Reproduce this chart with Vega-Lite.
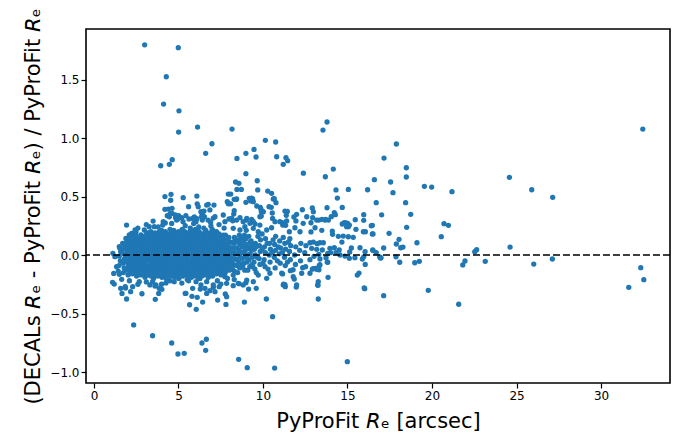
{
"$schema":"https://vega.github.io/schema/vega-lite/v6.json",
"width":584,"height":354,
"autosize":{"type":"none"},
"padding":{"left":86,"top":29,"right":20,"bottom":54},
"background":"white",
"config":{"view":{"stroke":"black","strokeWidth":1.6},"font":"DejaVu Sans",
"axis":{"grid":false,"domain":false,"tickColor":"black","tickWidth":1.2,"tickSize":5,"labelColor":"black","labelFontSize":12,"labelFont":"DejaVu Sans","titleFont":"DejaVu Sans","titleFontWeight":"normal","titleColor":"black","titleFontSize":21,"labelPadding":2}},
"layer":[
{"data":{"values":[
{"x":3.0,"y":1.797},{"x":4.99,"y":1.772},{"x":4.28,"y":1.524},{"x":4.12,"y":1.29},{"x":5.03,"y":1.233},{"x":6.13,"y":1.094},{"x":8.17,"y":1.077},{"x":5.01,"y":1.051},{"x":6.98,"y":0.951},{"x":6.61,"y":0.869},{"x":4.63,"y":0.815},{"x":4.46,"y":0.775},{"x":3.95,"y":0.763},{"x":9.47,"y":0.903},{"x":8.99,"y":0.869},{"x":8.46,"y":0.826},{"x":9.59,"y":0.838},{"x":8.99,"y":0.695},{"x":8.38,"y":0.624},{"x":8.58,"y":0.613},{"x":8.46,"y":0.561},{"x":8.72,"y":0.561},{"x":8.09,"y":0.521},{"x":4.2,"y":0.5},{"x":4.56,"y":0.519},{"x":5.28,"y":0.49},{"x":6.09,"y":0.504},
{"x":13.79,"y":1.137},{"x":13.55,"y":1.068},{"x":10.14,"y":0.98},{"x":10.75,"y":0.966},{"x":10.81,"y":0.84},{"x":11.36,"y":0.832},{"x":11.46,"y":0.806},{"x":11.2,"y":0.775},{"x":17.89,"y":0.949},{"x":17.16,"y":0.829},{"x":18.48,"y":0.746},{"x":18.48,"y":0.667},{"x":14.16,"y":0.735},{"x":13.69,"y":0.669},{"x":12.39,"y":0.7},{"x":16.59,"y":0.644},{"x":17.55,"y":0.624},{"x":17.69,"y":0.533},{"x":16.19,"y":0.558},{"x":15.05,"y":0.561},{"x":14.32,"y":0.556},{"x":14.4,"y":0.487},{"x":9.66,"y":0.635},{"x":9.69,"y":0.556},{"x":10.28,"y":0.547},{"x":10.51,"y":0.527},{"x":10.61,"y":0.479},{"x":9.33,"y":0.487},
{"x":32.47,"y":1.077},{"x":24.58,"y":0.664},{"x":25.9,"y":0.558},{"x":27.14,"y":0.493},{"x":19.55,"y":0.587},{"x":19.98,"y":0.581},{"x":21.18,"y":0.541},{"x":18.44,"y":0.447},{"x":16.7,"y":0.447},{"x":17.02,"y":0.344},{"x":18.74,"y":0.348},{"x":18.5,"y":0.237},{"x":17.46,"y":0.185},{"x":16.41,"y":0.25},{"x":16.51,"y":0.18},{"x":20.71,"y":0.268},{"x":20.97,"y":0.254},{"x":20.55,"y":0.157},{"x":19.11,"y":0.105},{"x":17.89,"y":0.094},{"x":18.05,"y":0.134},{"x":18.15,"y":0.062},{"x":18.28,"y":0.068},{"x":17.14,"y":0.06},{"x":16.51,"y":0.04},{"x":16.96,"y":-0.026},{"x":18.09,"y":-0.062},{"x":18.98,"y":-0.066},{"x":19.25,"y":-0.054},{"x":21.82,"y":-0.085},{"x":21.95,"y":-0.051},{"x":22.53,"y":0.028},{"x":22.64,"y":0.045},{"x":23.15,"y":-0.054},{"x":24.62,"y":0.068},{"x":26.02,"y":-0.077},{"x":27.12,"y":-0.034},{"x":17.14,"y":-0.348},{"x":19.78,"y":-0.302},{"x":21.58,"y":-0.421},{"x":31.64,"y":-0.276},{"x":32.35,"y":-0.108},{"x":32.53,"y":-0.211},
{"x":2.35,"y":-0.598},{"x":3.47,"y":-0.69},{"x":4.6,"y":-0.752},{"x":4.97,"y":-0.846},{"x":5.34,"y":-0.84},{"x":6.39,"y":-0.752},{"x":6.65,"y":-0.72},{"x":6.61,"y":-0.815},{"x":8.56,"y":-0.892},{"x":9.07,"y":-0.963},{"x":10.69,"y":-0.966},{"x":10.57,"y":-0.527},{"x":10.2,"y":-0.376},{"x":1.66,"y":-0.328},{"x":1.93,"y":-0.376},{"x":1.87,"y":-0.282},{"x":2.17,"y":-0.313},{"x":1.2,"y":-0.248},{"x":1.1,"y":-0.233},{"x":2.84,"y":-0.331},{"x":3.63,"y":-0.379},{"x":3.83,"y":-0.328},{"x":4.02,"y":-0.293},{"x":3.61,"y":-0.265},{"x":4.26,"y":-0.239},{"x":5.4,"y":-0.328},{"x":5.66,"y":-0.425},{"x":5.8,"y":-0.353},{"x":6.11,"y":-0.362},{"x":6.05,"y":-0.464},{"x":6.43,"y":-0.402},{"x":6.29,"y":-0.291},{"x":6.67,"y":-0.328},{"x":6.86,"y":-0.305},{"x":7.06,"y":-0.276},{"x":7.32,"y":-0.385},{"x":7.41,"y":-0.271},{"x":7.51,"y":-0.248},{"x":7.77,"y":-0.333},{"x":7.85,"y":-0.356},{"x":7.81,"y":-0.422},{"x":8.24,"y":-0.262},{"x":8.58,"y":-0.245},{"x":9.15,"y":-0.291},{"x":9.6,"y":-0.285},{"x":8.9,"y":-0.402},{"x":8.99,"y":-0.237},{"x":11.3,"y":-0.254},{"x":14.99,"y":-0.912},{"x":16.02,"y":-0.288},{"x":13.27,"y":-0.376},{"x":13.24,"y":-0.256},{"x":13.85,"y":-0.191},{"x":15.58,"y":-0.171},{"x":15.68,"y":-0.154},{"x":11.97,"y":-0.274},{"x":11.22,"y":-0.25},{"x":11.32,"y":-0.271},{"x":11.85,"y":-0.205},{"x":11.16,"y":-0.162},{"x":12.35,"y":-0.108},{"x":11.62,"y":-0.134},{"x":11.78,"y":-0.126},{"x":12.92,"y":-0.12},{"x":13.1,"y":-0.114},{"x":13.31,"y":-0.126},{"x":13.37,"y":-0.083},{"x":13.8,"y":-0.06},{"x":16.05,"y":-0.08},{"x":13.25,"y":-0.259},{"x":15.99,"y":-0.282},
{"x":4.54,"y":0.468},{"x":6.11,"y":0.438},{"x":6.17,"y":0.413},{"x":5.6,"y":0.413},{"x":6.51,"y":0.376},{"x":6.41,"y":0.348},{"x":6.76,"y":0.433},{"x":7.1,"y":0.427},{"x":4.4,"y":0.393},{"x":4.2,"y":0.391},{"x":4.62,"y":0.399},{"x":4.51,"y":0.353},{"x":4.34,"y":0.336},{"x":4.1,"y":0.285},{"x":4.22,"y":0.274},{"x":4.83,"y":0.319},{"x":5.01,"y":0.336},{"x":5.19,"y":0.319},{"x":4.89,"y":0.299},{"x":5.27,"y":0.285},{"x":5.62,"y":0.308},{"x":5.94,"y":0.325},{"x":6.09,"y":0.31},{"x":6.41,"y":0.299},{"x":6.75,"y":0.299},{"x":7.06,"y":0.316},{"x":6.92,"y":0.248},{"x":7.95,"y":0.521},{"x":8.09,"y":0.438},{"x":7.95,"y":0.438},{"x":8.3,"y":0.476},{"x":8.42,"y":0.476},{"x":8.27,"y":0.35},{"x":8.3,"y":0.379},{"x":8.21,"y":0.293},{"x":7.99,"y":0.308},{"x":8.99,"y":0.45},{"x":9.27,"y":0.462},{"x":9.43,"y":0.456},{"x":9.63,"y":0.419},{"x":9.84,"y":0.408},{"x":9.9,"y":0.37},{"x":9.9,"y":0.333},{"x":9.53,"y":0.265},{"x":9.33,"y":0.305},{"x":9.01,"y":0.299},{"x":9.01,"y":0.211},{"x":10.36,"y":0.413},{"x":10.49,"y":0.408},{"x":10.55,"y":0.359},{"x":10.67,"y":0.481},{"x":10.77,"y":0.447},{"x":11.3,"y":0.376},{"x":11.44,"y":0.373},{"x":11.38,"y":0.339},{"x":11.14,"y":0.276},{"x":11.34,"y":0.254},{"x":11.83,"y":0.325},{"x":11.95,"y":0.291},{"x":12.33,"y":0.387},{"x":12.92,"y":0.402},{"x":13.79,"y":0.404},{"x":14.22,"y":0.362},{"x":13.87,"y":0.299},{"x":13.3,"y":0.299},{"x":13.67,"y":0.299},{"x":12.84,"y":0.276},{"x":13.48,"y":0.211},{"x":14.1,"y":0.205},{"x":14.69,"y":0.265},{"x":14.91,"y":0.274},{"x":15.05,"y":0.242},{"x":15.46,"y":0.302},{"x":15.96,"y":0.345},{"x":15.96,"y":0.297},{"x":16.47,"y":0.254},{"x":16.06,"y":0.199},{"x":16.47,"y":0.18},
{"x":14.69,"y":0.407},{"x":14.28,"y":0.345},{"x":14.04,"y":0.328},{"x":12.94,"y":0.319},{"x":13.49,"y":0.305},{"x":13.71,"y":0.305},{"x":14.81,"y":0.276},{"x":15.01,"y":0.271},{"x":15.11,"y":0.256},{"x":14.95,"y":0.242},{"x":15.5,"y":0.22},{"x":15.94,"y":0.199},{"x":12.84,"y":0.197},{"x":13.08,"y":0.233},{"x":14.12,"y":0.177},{"x":14.46,"y":0.16},{"x":14.75,"y":0.162},{"x":14.67,"y":0.111},{"x":15.34,"y":0.151},{"x":15.05,"y":0.156},{"x":12.78,"y":0.105},{"x":12.98,"y":0.111},{"x":13.21,"y":0.097},{"x":13.37,"y":0.105},{"x":13.57,"y":0.105},{"x":12.88,"y":0.057},{"x":13.18,"y":0.049},{"x":13.51,"y":0.043},{"x":13.96,"y":0.057},{"x":14.22,"y":0.062},{"x":14.51,"y":0.043},{"x":15.23,"y":0.06},{"x":15.74,"y":0.062},{"x":16.04,"y":0.028},{"x":16.49,"y":0.043},{"x":16.7,"y":0.02},{"x":16.9,"y":-0.015},{"x":16.98,"y":-0.023},{"x":17.87,"y":-0.015},{"x":13.3,"y":0.006},{"x":13.37,"y":-0.034},{"x":13.73,"y":-0.023},{"x":13.33,"y":-0.091},{"x":13.83,"y":-0.062},{"x":12.98,"y":-0.117},{"x":13.18,"y":-0.122},{"x":13.02,"y":-0.011},{"x":14.56,"y":0.0},{"x":14.85,"y":-0.009},{"x":15.11,"y":-0.028},{"x":15.44,"y":-0.023},{"x":15.88,"y":-0.034},{"x":15.96,"y":-0.015},{"x":14.0,"y":0.02},{"x":14.32,"y":0.02},{"x":15.13,"y":0.026},{"x":12.78,"y":-0.04},{"x":13.83,"y":0.014},
{"x":1.12,"y":0.014},{"x":1.44,"y":-0.137},{"x":1.5,"y":-0.165},{"x":1.85,"y":-0.271},{"x":2.29,"y":-0.271},{"x":2.68,"y":-0.228},{"x":3.31,"y":-0.256},{"x":3.47,"y":-0.228},{"x":3.67,"y":-0.256},{"x":3.86,"y":-0.285},{"x":4.75,"y":-0.228},{"x":4.89,"y":-0.185},{"x":5.44,"y":-0.327},{"x":5.84,"y":-0.285},{"x":6.04,"y":-0.228},{"x":6.33,"y":-0.256},{"x":4.62,"y":0.356},{"x":4.46,"y":0.327},{"x":4.81,"y":0.342},{"x":4.95,"y":0.305},{"x":3.27,"y":0.242},{"x":3.57,"y":0.242},{"x":4.07,"y":0.256},{"x":3.37,"y":0.199},{"x":5.44,"y":0.336},{"x":5.84,"y":0.313},{"x":6.04,"y":0.285},{"x":6.33,"y":0.37},{"x":6.53,"y":0.327},{"x":2.49,"y":0.199},{"x":2.78,"y":0.171},{"x":2.98,"y":0.214},{"x":1.89,"y":0.142},{"x":2.09,"y":0.171},{"x":1.7,"y":0.1},{"x":1.5,"y":0.071},{"x":2.23,"y":0.185},{"x":2.43,"y":0.214},{"x":1.93,"y":0.256},{"x":1.24,"y":-0.014},{"x":1.17,"y":-0.157},{"x":1.34,"y":-0.1},{"x":1.64,"y":-0.208},{"x":1.58,"y":-0.285},
{"x":7.89,"y":0.456},{"x":8.44,"y":0.479},{"x":9.19,"y":0.485},{"x":9.39,"y":0.479},{"x":9.88,"y":0.393},{"x":10.02,"y":0.37},{"x":9.82,"y":0.327},{"x":10.57,"y":0.313},{"x":10.71,"y":0.285},{"x":11.4,"y":0.291},{"x":11.99,"y":0.348},{"x":12.59,"y":0.327},{"x":12.98,"y":0.37},{"x":13.18,"y":0.299},{"x":11.0,"y":0.285},{"x":11.17,"y":0.256},{"x":11.56,"y":0.199},{"x":11.89,"y":0.233},{"x":12.19,"y":0.199},{"x":12.38,"y":0.271},{"x":6.67,"y":0.427},{"x":6.86,"y":0.385},{"x":6.37,"y":0.327},{"x":7.16,"y":0.327},{"x":7.65,"y":0.342},{"x":7.75,"y":0.285},{"x":8.15,"y":0.313},{"x":8.44,"y":0.299},{"x":8.64,"y":0.319},{"x":8.83,"y":0.285},{"x":9.04,"y":0.313},{"x":9.23,"y":0.271},{"x":9.43,"y":0.285},{"x":8.24,"y":0.228},{"x":8.64,"y":0.214},{"x":8.93,"y":0.242},{"x":9.43,"y":0.228},{"x":9.72,"y":0.199},{"x":10.22,"y":0.214},{"x":10.51,"y":0.233},{"x":9.82,"y":0.256},
{"x":6.47,"y":-0.142},{"x":6.86,"y":-0.171},{"x":6.67,"y":-0.228},{"x":7.06,"y":-0.256},{"x":6.57,"y":-0.285},{"x":7.16,"y":-0.313},{"x":7.46,"y":-0.156},{"x":7.75,"y":-0.185},{"x":7.85,"y":-0.242},{"x":8.24,"y":-0.171},{"x":8.54,"y":-0.242},{"x":8.83,"y":-0.256},{"x":9.04,"y":-0.214},{"x":9.43,"y":-0.228},{"x":9.72,"y":-0.171},{"x":10.22,"y":-0.199},{"x":10.41,"y":-0.156},{"x":11.11,"y":-0.156},{"x":11.2,"y":-0.256},{"x":11.79,"y":-0.185},{"x":11.99,"y":-0.256},{"x":12.29,"y":-0.156},{"x":12.78,"y":-0.156},{"x":13.27,"y":-0.228},
{"x":2.6,"y":0.23},{"x":3.1,"y":0.26},{"x":3.8,"y":0.24},{"x":4.6,"y":0.27},{"x":5.4,"y":0.25},{"x":5.9,"y":0.27},{"x":6.2,"y":0.24},{"x":6.9,"y":0.28},{"x":7.4,"y":0.26},{"x":7.7,"y":0.23},{"x":3.5,"y":0.29},{"x":5.7,"y":0.23},
{"x":2.1,"y":-0.22},{"x":2.6,"y":-0.25},{"x":3.1,"y":-0.23},{"x":4.0,"y":-0.25},{"x":4.5,"y":-0.22},{"x":5.2,"y":-0.24},{"x":5.6,"y":-0.22},{"x":6.2,"y":-0.2},{"x":7.3,"y":-0.22},{"x":7.9,"y":-0.2},{"x":8.3,"y":-0.21},
{"x":1.48,"y":-0.09},{"x":1.56,"y":-0.05},{"x":1.5,"y":-0.01},{"x":1.58,"y":0.03},{"x":1.53,"y":0.06},
{"x":1.74,"y":-0.15},{"x":1.79,"y":-0.11},{"x":1.72,"y":-0.07},{"x":1.81,"y":-0.03},{"x":1.76,"y":0.01},{"x":1.7,"y":0.05},{"x":1.78,"y":0.09},
{"x":2.02,"y":-0.17},{"x":1.97,"y":-0.13},{"x":2.05,"y":-0.09},{"x":2.0,"y":-0.05},{"x":2.07,"y":-0.01},{"x":1.98,"y":0.03},{"x":2.04,"y":0.07},{"x":2.01,"y":0.11},{"x":1.96,"y":0.14},
{"x":2.27,"y":-0.16},{"x":2.22,"y":-0.12},{"x":2.29,"y":-0.08},{"x":2.24,"y":-0.04},{"x":2.3,"y":0.0},{"x":2.21,"y":0.04},{"x":2.26,"y":0.08},{"x":2.28,"y":0.12},
{"x":2.52,"y":-0.18},{"x":2.47,"y":-0.14},{"x":2.55,"y":-0.1},{"x":2.49,"y":-0.06},{"x":2.53,"y":-0.02},{"x":2.46,"y":0.02},{"x":2.54,"y":0.06},{"x":2.5,"y":0.1},{"x":2.56,"y":0.14},{"x":2.48,"y":0.17},
{"x":2.77,"y":-0.17},{"x":2.73,"y":-0.13},{"x":2.8,"y":-0.09},{"x":2.71,"y":-0.05},{"x":2.78,"y":-0.01},{"x":2.74,"y":0.03},{"x":2.79,"y":0.07},{"x":2.72,"y":0.11},{"x":2.76,"y":0.15},
{"x":3.02,"y":-0.19},{"x":2.97,"y":-0.15},{"x":3.04,"y":-0.11},{"x":2.99,"y":-0.07},{"x":3.05,"y":-0.03},{"x":2.96,"y":0.01},{"x":3.03,"y":0.05},{"x":2.98,"y":0.09},{"x":3.01,"y":0.13},{"x":3.06,"y":0.16},
{"x":3.27,"y":-0.17},{"x":3.22,"y":-0.13},{"x":3.29,"y":-0.09},{"x":3.24,"y":-0.05},{"x":3.3,"y":-0.01},{"x":3.21,"y":0.03},{"x":3.26,"y":0.07},{"x":3.23,"y":0.11},{"x":3.28,"y":0.15},{"x":3.25,"y":0.19},
{"x":3.52,"y":-0.2},{"x":3.47,"y":-0.16},{"x":3.54,"y":-0.12},{"x":3.49,"y":-0.08},{"x":3.55,"y":-0.04},{"x":3.46,"y":0.0},{"x":3.53,"y":0.04},{"x":3.48,"y":0.08},{"x":3.51,"y":0.12},{"x":3.56,"y":0.16},
{"x":3.77,"y":-0.18},{"x":3.72,"y":-0.14},{"x":3.79,"y":-0.1},{"x":3.74,"y":-0.06},{"x":3.8,"y":-0.02},{"x":3.71,"y":0.02},{"x":3.76,"y":0.06},{"x":3.73,"y":0.1},{"x":3.78,"y":0.14},{"x":3.75,"y":0.18},
{"x":4.02,"y":-0.19},{"x":3.97,"y":-0.15},{"x":4.04,"y":-0.11},{"x":3.99,"y":-0.07},{"x":4.05,"y":-0.03},{"x":3.96,"y":0.01},{"x":4.03,"y":0.05},{"x":3.98,"y":0.09},{"x":4.01,"y":0.13},{"x":4.06,"y":0.17},{"x":4.0,"y":0.21},
{"x":4.27,"y":-0.2},{"x":4.22,"y":-0.16},{"x":4.29,"y":-0.12},{"x":4.24,"y":-0.08},{"x":4.3,"y":-0.04},{"x":4.21,"y":0.0},{"x":4.26,"y":0.04},{"x":4.23,"y":0.08},{"x":4.28,"y":0.12},{"x":4.25,"y":0.16},{"x":4.22,"y":0.2},
{"x":4.52,"y":-0.18},{"x":4.47,"y":-0.14},{"x":4.54,"y":-0.1},{"x":4.49,"y":-0.06},{"x":4.55,"y":-0.02},{"x":4.46,"y":0.02},{"x":4.53,"y":0.06},{"x":4.48,"y":0.1},{"x":4.51,"y":0.14},{"x":4.56,"y":0.18},{"x":4.5,"y":0.22},
{"x":4.77,"y":-0.19},{"x":4.72,"y":-0.15},{"x":4.79,"y":-0.11},{"x":4.74,"y":-0.07},{"x":4.8,"y":-0.03},{"x":4.71,"y":0.01},{"x":4.76,"y":0.05},{"x":4.73,"y":0.09},{"x":4.78,"y":0.13},{"x":4.75,"y":0.17},{"x":4.72,"y":0.21},
{"x":5.02,"y":-0.2},{"x":4.97,"y":-0.16},{"x":5.04,"y":-0.12},{"x":4.99,"y":-0.08},{"x":5.05,"y":-0.04},{"x":4.96,"y":0.0},{"x":5.03,"y":0.04},{"x":4.98,"y":0.08},{"x":5.01,"y":0.12},{"x":5.06,"y":0.16},{"x":5.0,"y":0.2},
{"x":5.27,"y":-0.18},{"x":5.22,"y":-0.14},{"x":5.29,"y":-0.1},{"x":5.24,"y":-0.06},{"x":5.3,"y":-0.02},{"x":5.21,"y":0.02},{"x":5.26,"y":0.06},{"x":5.23,"y":0.1},{"x":5.28,"y":0.14},{"x":5.25,"y":0.18},{"x":5.22,"y":0.22},
{"x":5.52,"y":-0.21},{"x":5.47,"y":-0.17},{"x":5.54,"y":-0.13},{"x":5.49,"y":-0.09},{"x":5.55,"y":-0.05},{"x":5.46,"y":-0.01},{"x":5.53,"y":0.03},{"x":5.48,"y":0.07},{"x":5.51,"y":0.11},{"x":5.56,"y":0.15},{"x":5.5,"y":0.19},
{"x":5.77,"y":-0.19},{"x":5.72,"y":-0.15},{"x":5.79,"y":-0.11},{"x":5.74,"y":-0.07},{"x":5.8,"y":-0.03},{"x":5.71,"y":0.01},{"x":5.76,"y":0.05},{"x":5.73,"y":0.09},{"x":5.78,"y":0.13},{"x":5.75,"y":0.17},{"x":5.72,"y":0.21},
{"x":6.02,"y":-0.18},{"x":5.97,"y":-0.14},{"x":6.04,"y":-0.1},{"x":5.99,"y":-0.06},{"x":6.05,"y":-0.02},{"x":5.96,"y":0.02},{"x":6.03,"y":0.06},{"x":5.98,"y":0.1},{"x":6.01,"y":0.14},{"x":6.06,"y":0.18},{"x":6.0,"y":0.22},
{"x":6.27,"y":-0.2},{"x":6.22,"y":-0.16},{"x":6.29,"y":-0.12},{"x":6.24,"y":-0.08},{"x":6.3,"y":-0.04},{"x":6.21,"y":0.0},{"x":6.26,"y":0.04},{"x":6.23,"y":0.08},{"x":6.28,"y":0.12},{"x":6.25,"y":0.16},{"x":6.22,"y":0.2},
{"x":6.52,"y":-0.17},{"x":6.47,"y":-0.13},{"x":6.54,"y":-0.09},{"x":6.49,"y":-0.05},{"x":6.55,"y":-0.01},{"x":6.46,"y":0.03},{"x":6.53,"y":0.07},{"x":6.48,"y":0.11},{"x":6.51,"y":0.15},{"x":6.56,"y":0.19},{"x":6.5,"y":0.23},
{"x":6.77,"y":-0.19},{"x":6.72,"y":-0.15},{"x":6.79,"y":-0.11},{"x":6.74,"y":-0.07},{"x":6.8,"y":-0.03},{"x":6.71,"y":0.01},{"x":6.76,"y":0.05},{"x":6.73,"y":0.09},{"x":6.78,"y":0.13},{"x":6.75,"y":0.17},
{"x":7.02,"y":-0.18},{"x":6.97,"y":-0.14},{"x":7.04,"y":-0.1},{"x":6.99,"y":-0.06},{"x":7.05,"y":-0.02},{"x":6.96,"y":0.02},{"x":7.03,"y":0.06},{"x":6.98,"y":0.1},{"x":7.01,"y":0.14},{"x":7.06,"y":0.18},{"x":7.0,"y":0.22},
{"x":7.27,"y":-0.16},{"x":7.22,"y":-0.12},{"x":7.29,"y":-0.08},{"x":7.24,"y":-0.04},{"x":7.3,"y":0.0},{"x":7.21,"y":0.04},{"x":7.26,"y":0.08},{"x":7.23,"y":0.12},{"x":7.28,"y":0.16},{"x":7.25,"y":0.2},
{"x":7.52,"y":-0.17},{"x":7.47,"y":-0.13},{"x":7.54,"y":-0.09},{"x":7.49,"y":-0.05},{"x":7.55,"y":-0.01},{"x":7.46,"y":0.03},{"x":7.53,"y":0.07},{"x":7.48,"y":0.11},{"x":7.51,"y":0.15},
{"x":7.77,"y":-0.15},{"x":7.72,"y":-0.11},{"x":7.79,"y":-0.07},{"x":7.74,"y":-0.03},{"x":7.8,"y":0.01},{"x":7.71,"y":0.05},{"x":7.76,"y":0.09},{"x":7.73,"y":0.13},{"x":7.78,"y":0.17},
{"x":8.02,"y":-0.13},{"x":7.97,"y":-0.09},{"x":8.04,"y":-0.05},{"x":7.99,"y":-0.01},{"x":8.05,"y":0.03},{"x":7.96,"y":0.07},{"x":8.03,"y":0.11},{"x":7.98,"y":0.15},
{"x":8.32,"y":-0.14},{"x":8.27,"y":-0.08},{"x":8.34,"y":-0.03},{"x":8.29,"y":0.02},{"x":8.35,"y":0.06},{"x":8.26,"y":0.1},{"x":8.31,"y":0.15},
{"x":8.62,"y":-0.11},{"x":8.57,"y":-0.06},{"x":8.64,"y":-0.01},{"x":8.59,"y":0.04},{"x":8.65,"y":0.09},{"x":8.56,"y":0.13},{"x":8.6,"y":0.17},
{"x":8.92,"y":-0.13},{"x":8.87,"y":-0.07},{"x":8.94,"y":-0.02},{"x":8.89,"y":0.03},{"x":8.95,"y":0.08},{"x":8.86,"y":0.12},
{"x":9.22,"y":-0.1},{"x":9.17,"y":-0.04},{"x":9.24,"y":0.01},{"x":9.19,"y":0.06},{"x":9.25,"y":0.11},{"x":9.16,"y":0.16},
{"x":9.52,"y":-0.12},{"x":9.47,"y":-0.06},{"x":9.54,"y":0.0},{"x":9.49,"y":0.05},{"x":9.55,"y":0.1},
{"x":9.82,"y":-0.08},{"x":9.77,"y":-0.03},{"x":9.84,"y":0.03},{"x":9.79,"y":0.08},{"x":9.85,"y":0.13},
{"x":10.12,"y":-0.1},{"x":10.07,"y":-0.04},{"x":10.14,"y":0.02},{"x":10.09,"y":0.07},{"x":10.15,"y":0.14},
{"x":10.42,"y":-0.06},{"x":10.37,"y":0.0},{"x":10.44,"y":0.05},{"x":10.39,"y":0.1},
{"x":10.72,"y":-0.11},{"x":10.67,"y":-0.02},{"x":10.74,"y":0.04},{"x":10.69,"y":0.09},{"x":10.75,"y":0.16},
{"x":11.02,"y":-0.07},{"x":10.97,"y":0.01},{"x":11.04,"y":0.06},{"x":10.99,"y":0.12},
{"x":11.32,"y":-0.09},{"x":11.27,"y":-0.02},{"x":11.34,"y":0.05},{"x":11.29,"y":0.1},
{"x":11.62,"y":-0.04},{"x":11.57,"y":0.03},{"x":11.64,"y":0.08},{"x":11.59,"y":0.14},
{"x":11.92,"y":-0.08},{"x":11.87,"y":0.0},{"x":11.94,"y":0.07},
{"x":12.22,"y":-0.05},{"x":12.17,"y":0.04},{"x":12.24,"y":0.1},
{"x":12.52,"y":-0.1},{"x":12.47,"y":0.02},{"x":12.54,"y":0.08},
{"x":1.88,"y":-0.12},{"x":1.9,"y":-0.06},{"x":1.86,"y":0.0},{"x":1.89,"y":0.06},{"x":1.87,"y":0.1},
{"x":2.13,"y":-0.14},{"x":2.15,"y":-0.1},{"x":2.11,"y":-0.06},{"x":2.14,"y":-0.02},{"x":2.12,"y":0.02},{"x":2.16,"y":0.06},{"x":2.1,"y":0.1},{"x":2.13,"y":0.15},
{"x":2.38,"y":-0.15},{"x":2.4,"y":-0.11},{"x":2.36,"y":-0.07},{"x":2.39,"y":-0.03},{"x":2.37,"y":0.01},{"x":2.41,"y":0.05},{"x":2.35,"y":0.09},{"x":2.38,"y":0.13},{"x":2.4,"y":0.16},
{"x":2.63,"y":-0.15},{"x":2.65,"y":-0.11},{"x":2.61,"y":-0.07},{"x":2.64,"y":-0.03},{"x":2.62,"y":0.01},{"x":2.66,"y":0.05},{"x":2.6,"y":0.09},{"x":2.63,"y":0.13},
{"x":2.88,"y":-0.16},{"x":2.9,"y":-0.12},{"x":2.86,"y":-0.08},{"x":2.89,"y":-0.04},{"x":2.87,"y":0.0},{"x":2.91,"y":0.04},{"x":2.85,"y":0.08},{"x":2.88,"y":0.12},{"x":2.9,"y":0.16},
{"x":3.13,"y":-0.17},{"x":3.15,"y":-0.13},{"x":3.11,"y":-0.09},{"x":3.14,"y":-0.05},{"x":3.12,"y":-0.01},{"x":3.16,"y":0.03},{"x":3.1,"y":0.07},{"x":3.13,"y":0.11},{"x":3.15,"y":0.15},{"x":3.12,"y":0.19},
{"x":3.38,"y":-0.18},{"x":3.4,"y":-0.14},{"x":3.36,"y":-0.1},{"x":3.39,"y":-0.06},{"x":3.37,"y":-0.02},{"x":3.41,"y":0.02},{"x":3.35,"y":0.06},{"x":3.38,"y":0.1},{"x":3.4,"y":0.14},{"x":3.37,"y":0.18},
{"x":3.63,"y":-0.17},{"x":3.65,"y":-0.13},{"x":3.61,"y":-0.09},{"x":3.64,"y":-0.05},{"x":3.62,"y":-0.01},{"x":3.66,"y":0.03},{"x":3.6,"y":0.07},{"x":3.63,"y":0.11},{"x":3.65,"y":0.15},{"x":3.62,"y":0.19},
{"x":3.88,"y":-0.16},{"x":3.9,"y":-0.12},{"x":3.86,"y":-0.08},{"x":3.89,"y":-0.04},{"x":3.87,"y":0.0},{"x":3.91,"y":0.04},{"x":3.85,"y":0.08},{"x":3.88,"y":0.12},{"x":3.9,"y":0.16},{"x":3.87,"y":0.2},
{"x":4.13,"y":-0.17},{"x":4.15,"y":-0.13},{"x":4.11,"y":-0.09},{"x":4.14,"y":-0.05},{"x":4.12,"y":-0.01},{"x":4.16,"y":0.03},{"x":4.1,"y":0.07},{"x":4.13,"y":0.11},{"x":4.15,"y":0.15},{"x":4.12,"y":0.19},
{"x":4.38,"y":-0.18},{"x":4.4,"y":-0.14},{"x":4.36,"y":-0.1},{"x":4.39,"y":-0.06},{"x":4.37,"y":-0.02},{"x":4.41,"y":0.02},{"x":4.35,"y":0.06},{"x":4.38,"y":0.1},{"x":4.4,"y":0.14},{"x":4.37,"y":0.18},
{"x":4.63,"y":-0.16},{"x":4.65,"y":-0.12},{"x":4.61,"y":-0.08},{"x":4.64,"y":-0.04},{"x":4.62,"y":0.0},{"x":4.66,"y":0.04},{"x":4.6,"y":0.08},{"x":4.63,"y":0.12},{"x":4.65,"y":0.16},{"x":4.62,"y":0.2},
{"x":4.88,"y":-0.17},{"x":4.9,"y":-0.13},{"x":4.86,"y":-0.09},{"x":4.89,"y":-0.05},{"x":4.87,"y":-0.01},{"x":4.91,"y":0.03},{"x":4.85,"y":0.07},{"x":4.88,"y":0.11},{"x":4.9,"y":0.15},{"x":4.87,"y":0.19},
{"x":5.13,"y":-0.18},{"x":5.15,"y":-0.14},{"x":5.11,"y":-0.1},{"x":5.14,"y":-0.06},{"x":5.12,"y":-0.02},{"x":5.16,"y":0.02},{"x":5.1,"y":0.06},{"x":5.13,"y":0.1},{"x":5.15,"y":0.14},{"x":5.12,"y":0.18},
{"x":5.38,"y":-0.16},{"x":5.4,"y":-0.12},{"x":5.36,"y":-0.08},{"x":5.39,"y":-0.04},{"x":5.37,"y":0.0},{"x":5.41,"y":0.04},{"x":5.35,"y":0.08},{"x":5.38,"y":0.12},{"x":5.4,"y":0.16},{"x":5.37,"y":0.2},
{"x":5.63,"y":-0.19},{"x":5.65,"y":-0.15},{"x":5.61,"y":-0.11},{"x":5.64,"y":-0.07},{"x":5.62,"y":-0.03},{"x":5.66,"y":0.01},{"x":5.6,"y":0.05},{"x":5.63,"y":0.09},{"x":5.65,"y":0.13},{"x":5.62,"y":0.17},
{"x":5.88,"y":-0.17},{"x":5.9,"y":-0.13},{"x":5.86,"y":-0.09},{"x":5.89,"y":-0.05},{"x":5.87,"y":-0.01},{"x":5.91,"y":0.03},{"x":5.85,"y":0.07},{"x":5.88,"y":0.11},{"x":5.9,"y":0.15},{"x":5.87,"y":0.19},
{"x":6.13,"y":-0.16},{"x":6.15,"y":-0.12},{"x":6.11,"y":-0.08},{"x":6.14,"y":-0.04},{"x":6.12,"y":0.0},{"x":6.16,"y":0.04},{"x":6.1,"y":0.08},{"x":6.13,"y":0.12},{"x":6.15,"y":0.16},{"x":6.12,"y":0.2},
{"x":6.38,"y":-0.18},{"x":6.4,"y":-0.14},{"x":6.36,"y":-0.1},{"x":6.39,"y":-0.06},{"x":6.37,"y":-0.02},{"x":6.41,"y":0.02},{"x":6.35,"y":0.06},{"x":6.38,"y":0.1},{"x":6.4,"y":0.14},{"x":6.37,"y":0.18},
{"x":6.63,"y":-0.15},{"x":6.65,"y":-0.11},{"x":6.61,"y":-0.07},{"x":6.64,"y":-0.03},{"x":6.62,"y":0.01},{"x":6.66,"y":0.05},{"x":6.6,"y":0.09},{"x":6.63,"y":0.13},{"x":6.65,"y":0.17},{"x":6.62,"y":0.21},
{"x":6.88,"y":-0.17},{"x":6.9,"y":-0.13},{"x":6.86,"y":-0.09},{"x":6.89,"y":-0.05},{"x":6.87,"y":-0.01},{"x":6.91,"y":0.03},{"x":6.85,"y":0.07},{"x":6.88,"y":0.11},{"x":6.9,"y":0.15},{"x":6.87,"y":0.19},
{"x":7.13,"y":-0.16},{"x":7.15,"y":-0.12},{"x":7.11,"y":-0.08},{"x":7.14,"y":-0.04},{"x":7.12,"y":0.0},{"x":7.16,"y":0.04},{"x":7.1,"y":0.08},{"x":7.13,"y":0.12},{"x":7.15,"y":0.16},{"x":7.12,"y":0.2},
{"x":7.38,"y":-0.14},{"x":7.4,"y":-0.1},{"x":7.36,"y":-0.06},{"x":7.39,"y":-0.02},{"x":7.37,"y":0.02},{"x":7.41,"y":0.06},{"x":7.35,"y":0.1},{"x":7.38,"y":0.14},{"x":7.4,"y":0.18},
{"x":7.63,"y":-0.15},{"x":7.65,"y":-0.11},{"x":7.61,"y":-0.07},{"x":7.64,"y":-0.03},{"x":7.62,"y":0.01},{"x":7.66,"y":0.05},{"x":7.6,"y":0.09},{"x":7.63,"y":0.13},{"x":7.65,"y":0.17},
{"x":7.88,"y":-0.12},{"x":7.9,"y":-0.08},{"x":7.86,"y":-0.04},{"x":7.89,"y":0.0},{"x":7.87,"y":0.04},{"x":7.91,"y":0.08},{"x":7.85,"y":0.12},
{"x":8.15,"y":-0.1},{"x":8.17,"y":-0.06},{"x":8.13,"y":-0.02},{"x":8.16,"y":0.02},{"x":8.14,"y":0.06},{"x":8.18,"y":0.11},
{"x":8.45,"y":-0.09},{"x":8.47,"y":-0.04},{"x":8.43,"y":0.01},{"x":8.46,"y":0.06},{"x":8.44,"y":0.11},
{"x":8.75,"y":-0.08},{"x":8.77,"y":-0.03},{"x":8.73,"y":0.02},{"x":8.76,"y":0.07},{"x":8.74,"y":0.14},
{"x":9.05,"y":-0.06},{"x":9.07,"y":0.0},{"x":9.03,"y":0.05},{"x":9.06,"y":0.09},
{"x":9.35,"y":-0.08},{"x":9.37,"y":-0.02},{"x":9.33,"y":0.04},{"x":9.36,"y":0.08},
{"x":8.2,"y":-0.12},{"x":8.4,"y":0.13},{"x":8.5,"y":-0.15},{"x":8.7,"y":0.1},{"x":8.8,"y":-0.1},{"x":9.0,"y":0.14},{"x":9.1,"y":-0.13},{"x":9.3,"y":0.12},{"x":9.4,"y":-0.1},{"x":9.6,"y":0.07},{"x":9.65,"y":-0.02},{"x":9.7,"y":0.16},{"x":9.95,"y":0.05},{"x":10.0,"y":-0.07},{"x":10.25,"y":0.1},{"x":10.3,"y":-0.12},{"x":10.55,"y":0.02},{"x":10.6,"y":0.13},{"x":10.85,"y":-0.05},{"x":10.9,"y":0.07},{"x":11.15,"y":0.02},{"x":11.2,"y":0.15},{"x":11.45,"y":-0.06},{"x":11.5,"y":0.11},{"x":9.95,"y":0.18},{"x":8.9,"y":0.17},{"x":9.6,"y":-0.15}
]},
"mark":{"type":"circle","size":28,"color":"#1f77b4","opacity":1},
"encoding":{
"x":{"field":"x","type":"quantitative","scale":{"domain":[-0.47,34.08],"nice":false,"zero":false},"axis":{"title":"PyProFit 𝘙ₑ [arcsec]","values":[0,5,10,15,20,25,30],"format":"d","titlePadding":9}},
"y":{"field":"y","type":"quantitative","scale":{"domain":[-1.094,1.932],"nice":false,"zero":false},"axis":{"title":"(DECALs 𝘙ₑ - PyProFit 𝘙ₑ) / PyProFit 𝘙ₑ","values":[-1,-0.5,0,0.5,1,1.5],"format":".1f","titlePadding":6}}
}},
{"data":{"values":[{}]},"mark":{"type":"rule","strokeDash":[7,3],"color":"black","strokeWidth":1.6},"encoding":{"y":{"datum":0}}}
]
}
